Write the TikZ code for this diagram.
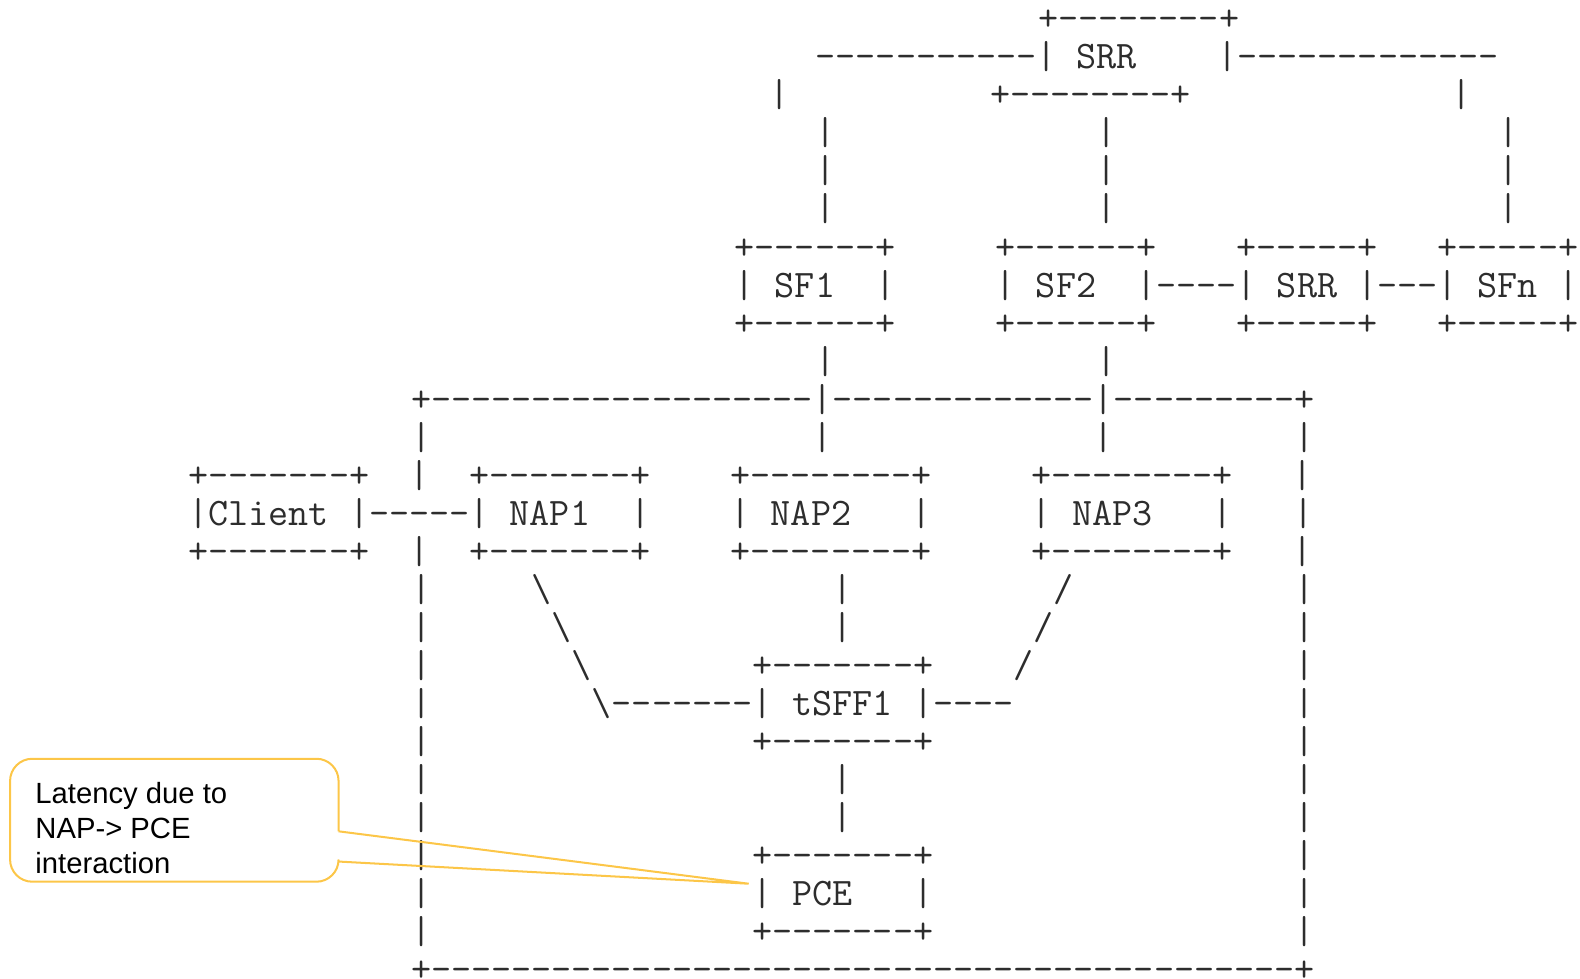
\documentclass[tikz,border=0pt]{standalone}
\usepackage{fontspec}
\newfontfamily\notefont{Liberation Sans}
\definecolor{ink}{RGB}{45,45,45}
\definecolor{callout}{RGB}{252,198,72}
% runs of blanks and hyphens in the text rows
\ExplSyntaxOn
\cs_new:Npn \blank #1 { \prg_replicate:nn {#1} { \nobreakspace } }
\cs_new:Npn \hy #1 { \prg_replicate:nn {#1} { - \kern \c_zero_dim } }
\ExplSyntaxOff

\begin{document}
\begin{tikzpicture}[x=1pt,y=1pt,
	ascii/.style={anchor=base west,inner sep=0pt,outer sep=0pt,text=ink,
		font=\fontsize{38.7}{40}\selectfont\ttfamily},
	note/.style={anchor=north west,inner sep=0pt,align=left,
		font=\notefont\fontsize{29}{35}\selectfont},
	calloutline/.style={draw=callout,line width=2pt}]
	\useasboundingbox (0,0) rectangle (1568,-971);
	% row r: baseline at -(30.5+37.76r), column c starts at 187+20.08c
	\node[ascii] (r0) at ({187+20.08*42},{-30.5}) {+\hy8+};
	\node[ascii] (r1) at ({187+20.08*31},{-30.5-37.76}) {\hy{11}|~SRR\blank4|\hy{13}};
	\node[ascii] (r2) at ({187+20.08*28.7},{-30.5-37.76*2}) {|\blank{10}+\hy8+\blank{13}|};
	\foreach \r in {3,4,5}
		\node[ascii] (r\r) at ({187+20.08*31},{-30.5-37.76*\r}) {|\blank{13}|\blank{19}|};
	\foreach \r in {6,8}
		\node[ascii] (r\r) at ({187+20.08*27},{-30.5-37.76*\r}) {+\hy6+\blank5+\hy6+\blank4+\hy5+\blank3+\hy5+};
	\node[ascii] (r7) at ({187+20.08*27},{-30.5-37.76*7}) {|~SF1~~|\blank5|~SF2~~|\hy4|~SRR~|\hy3|~SFn~|};
	\node[ascii] (r9) at ({187+20.08*31},{-30.5-37.76*9}) {|\blank{13}|};
	\node[ascii] (r10) at ({187+20.08*11},{-30.5-37.76*10}) {+\hy{19}|\hy{13}|\hy9+};
	\node[ascii] (r11) at ({187+20.08*11},{-30.5-37.76*11}) {|\blank{19}|\blank{13}|\blank9|};
	\foreach \r in {12,14}
		\node[ascii] (r\r) at ({187},{-30.5-37.76*\r}) {+\hy7+\blank2|\blank2+\hy7+\blank4+\hy8+\blank5+\hy8+\blank3|};
	\node[ascii] (r13) at ({187},{-30.5-37.76*13}) {|Client~|\hy5|~NAP1~~|\blank4|~NAP2\blank3|\blank5|~NAP3\blank3|\blank3|};
	\node[ascii] (r15) at ({187+20.08*11},{-30.5-37.76*15}) {|\blank5\textbackslash\blank{14}|\blank{10}/\blank{11}|};
	\node[ascii] (r16) at ({187+20.08*11},{-30.5-37.76*16}) {|\blank6\textbackslash\blank{13}|\blank9/\blank{12}|};
	\node[ascii] (r17) at ({187+20.08*11},{-30.5-37.76*17}) {|\blank7\textbackslash\blank8+\hy7+\blank4/\blank{13}|};
	\node[ascii] (r18) at ({187+20.08*11},{-30.5-37.76*18}) {|\blank8\textbackslash\hy7|~tSFF1~|\hy4\blank{14}|};
	\foreach \r in {19,22,24}
		\node[ascii] (r\r) at ({187+20.08*11},{-30.5-37.76*\r}) {|\blank{16}+\hy7+\blank{18}|};
	\foreach \r in {20,21}
		\node[ascii] (r\r) at ({187+20.08*11},{-30.5-37.76*\r}) {|\blank{20}|\blank{22}|};
	\node[ascii] (r23) at ({187+20.08*11},{-30.5-37.76*23}) {|\blank{16}|~PCE\blank3|\blank{18}|};
	\node[ascii] (r25) at ({187+20.08*11},{-30.5-37.76*25}) {+\hy{43}+};
	% callout
	\node[note] (lat) at (35,-776) {Latency due to\\NAP-> PCE\\interaction};
	\coordinate (tip) at (743,-877);
	\draw[calloutline,rounded corners=22pt] (336,-825) -- (336,-753) -- (10,-753) -- (10,-875) -- (336,-875) -- (336,-855);
	\draw[calloutline] (336,-825) -- (tip) -- (336,-855);
\end{tikzpicture}
\end{document}
